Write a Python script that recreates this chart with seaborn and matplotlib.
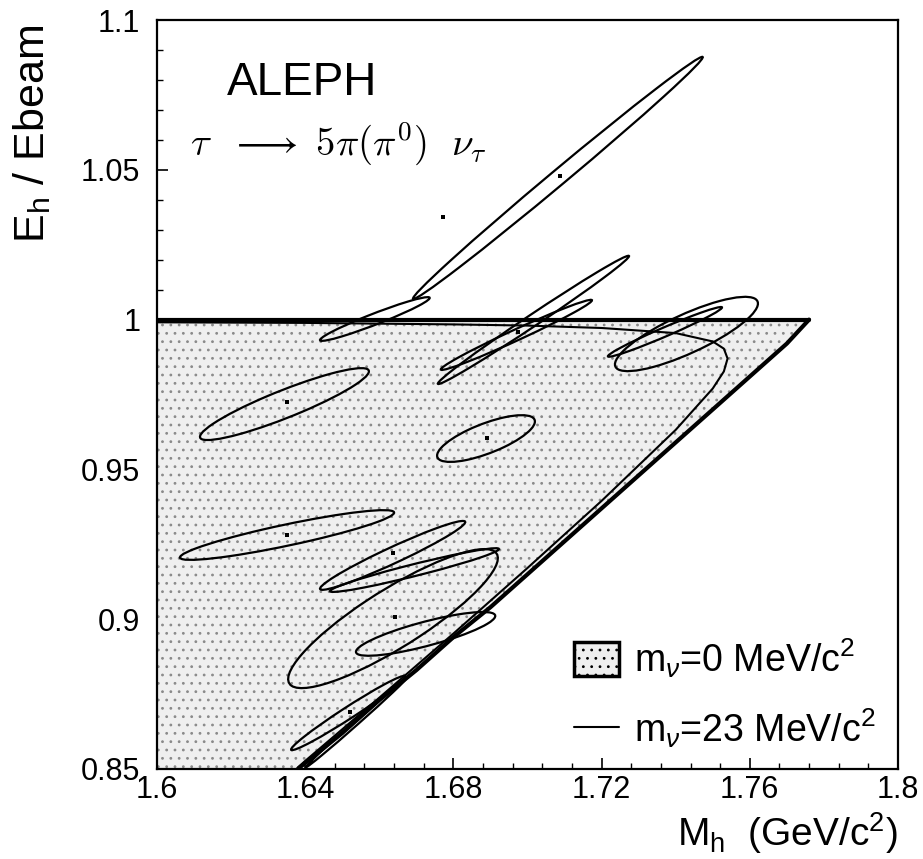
import numpy as np
import seaborn as sns
import matplotlib.pyplot as plt
import matplotlib.transforms as transforms
from matplotlib.patches import Ellipse, Patch
from matplotlib.lines import Line2D
from matplotlib.ticker import MultipleLocator

sns.set_theme(style="ticks")
plt.rcParams['font.family'] = ['Liberation Sans', 'DejaVu Sans']
plt.rcParams['mathtext.fontset'] = 'custom'
plt.rcParams['mathtext.rm'] = 'Liberation Sans'
plt.rcParams['mathtext.it'] = 'Liberation Sans:italic'
plt.rcParams['hatch.linewidth'] = 0.8
for k in ['text.color', 'axes.labelcolor', 'xtick.color', 'ytick.color', 'axes.edgecolor']:
    plt.rcParams[k] = 'black'

# kinematic limit for m_nu = 0 (lower edge of the shaded area, upper edge is 1)
bound_m = [1.638, 1.65, 1.66, 1.67, 1.68, 1.69, 1.70, 1.71, 1.72, 1.73, 1.74, 1.75, 1.76, 1.77, 1.776]
bound_e = [0.850, 0.862, 0.873, 0.883, 0.894, 0.904, 0.915, 0.926, 0.937, 0.948, 0.959, 0.970, 0.981, 0.992, 1.000]

# m_nu = 23 MeV contour, closed curve
nu23_m = [1.638, 1.64, 1.66, 1.68, 1.70, 1.72, 1.74, 1.75, 1.753, 1.754,
          1.753, 1.75, 1.74, 1.72, 1.70, 1.68, 1.64, 1.60]
nu23_e = [0.8505, 0.8527, 0.8738, 0.8952, 0.9171, 0.9395, 0.9632, 0.9770, 0.9827, 0.9870,
          0.9903, 0.9927, 0.9955, 0.9972, 0.9980, 0.9984, 0.9989, 0.9991]

# events: centre, half extent in M and E, correlation
ev_m = [1.7082, 1.6588, 1.6344, 1.6888, 1.6351, 1.6636, 1.6695, 1.6637,
        1.6725, 1.6516, 1.6538, 1.7016, 1.6970, 1.7371, 1.7429]
ev_e = [1.0473, 1.0002, 0.9718, 0.9603, 0.9281, 0.9213, 0.9164, 0.9002,
        0.8951, 0.8687, 0.8655, 0.9999, 0.9949, 0.9959, 0.9952]
ev_sm = [0.0391, 0.0148, 0.0228, 0.0132, 0.0289, 0.0196, 0.0228, 0.0283,
         0.0188, 0.0154, 0.0136, 0.0258, 0.0204, 0.0154, 0.0193]
ev_se = [0.0404, 0.0073, 0.0120, 0.0078, 0.0083, 0.0115, 0.0073, 0.0232,
         0.0073, 0.0124, 0.0149, 0.0214, 0.0117, 0.0083, 0.0124]
ev_rho = [0.9966, 0.962, 0.91, 0.73, 0.90, 0.966, 0.96, 0.87,
          0.82, 0.982, 0.9977, 0.994, 0.985, 0.98, 0.82]

# measured points (centre dots)
dot_m = [1.7088, 1.6351, 1.6891, 1.6351, 1.6637, 1.6642, 1.6521, 1.6974, 1.6772]
dot_e = [1.0479, 0.9725, 0.9605, 0.9281, 0.9221, 0.9007, 0.8690, 0.9959, 1.0342]

fig, ax = plt.subplots(figsize=(9.23, 8.59), dpi=100)
fig.subplots_adjust(left=157/923, right=898/923, bottom=1-769/859, top=1-20/859)

ax.fill([1.6] + bound_m + [1.6], [0.85] + bound_e + [1.0],
        facecolor='#efefef', edgecolor='#8a8a8a', hatch='..', linewidth=0)

sns.lineplot(x=bound_m, y=bound_e, color='black', linewidth=3, ax=ax)
sns.lineplot(x=[1.6, bound_m[-1]], y=[bound_e[-1], bound_e[-1]], color='black', linewidth=3, ax=ax)
sns.lineplot(x=nu23_m, y=nu23_e, sort=False, estimator=None, color='black', linewidth=1.5, ax=ax)

for cx, cy, sx, sy, r in zip(ev_m, ev_e, ev_sm, ev_se, ev_rho):
    ell = Ellipse((0, 0), width=2*np.sqrt(1 + r), height=2*np.sqrt(1 - r),
                  facecolor='none', edgecolor='black', linewidth=1.6)
    tr = transforms.Affine2D().rotate_deg(45).scale(sx, sy).translate(cx, cy)
    ell.set_transform(tr + ax.transData)
    ax.add_patch(ell)

sns.scatterplot(x=dot_m, y=dot_e, color='black', s=8, marker='s', linewidth=0, ax=ax)

ax.set_xlim(1.6, 1.8)
ax.set_ylim(0.85, 1.1)
ax.set_xticks([1.6, 1.64, 1.68, 1.72, 1.76, 1.8])
ax.set_xticklabels(['1.6', '1.64', '1.68', '1.72', '1.76', '1.8'])
ax.set_yticks([0.85, 0.9, 0.95, 1.0, 1.05, 1.1])
ax.set_yticklabels(['0.85', '0.9', '0.95', '1', '1.05', '1.1'])
ax.xaxis.set_minor_locator(MultipleLocator(0.008))
ax.yaxis.set_minor_locator(MultipleLocator(0.01))
ax.tick_params(which='both', direction='in', colors='black', labelsize=22)
ax.tick_params(which='major', length=8, width=1.2)
ax.tick_params(which='minor', length=4, width=1)
ax.tick_params(axis='x', pad=4)
ax.tick_params(axis='y', pad=12)
for s in ax.spines.values():
    s.set_color('black')
    s.set_linewidth(1.6)

ax.set_xlabel(r'M$_\mathrm{h}$  (GeV/c$^2$)', fontsize=28, loc='right')
ax.xaxis.set_label_coords(1.0, -0.055)
ax.set_ylabel(r'E$_\mathrm{h}$ / Ebeam', fontsize=31, loc='top')
ax.yaxis.set_label_coords(-0.14, 0.993)

ax.text(0.094, 0.90, 'ALEPH', transform=ax.transAxes, fontsize=33, va='baseline')
ax.text(0.045, 0.82, r'$\tau\ \ \longrightarrow\ 5\pi(\pi^0)\ \ \nu_\tau$', transform=ax.transAxes,
        fontsize=28, va='baseline', math_fontfamily='cm')

h_shade = Patch(facecolor='#efefef', edgecolor='black', hatch='..', linewidth=2.5)
h_line = Line2D([], [], color='black', linewidth=1.5)
ax.legend([h_shade, h_line], [r'm$_\nu$=0 MeV/c$^2$', r'm$_\nu$=23 MeV/c$^2$'],
          loc='lower right', bbox_to_anchor=(0.99, 0.005), frameon=False, fontsize=27,
          handlelength=1.2, handleheight=1.0, handletextpad=0.4, labelspacing=0.7,
          borderaxespad=0)

plt.savefig('out.png', dpi=100)
